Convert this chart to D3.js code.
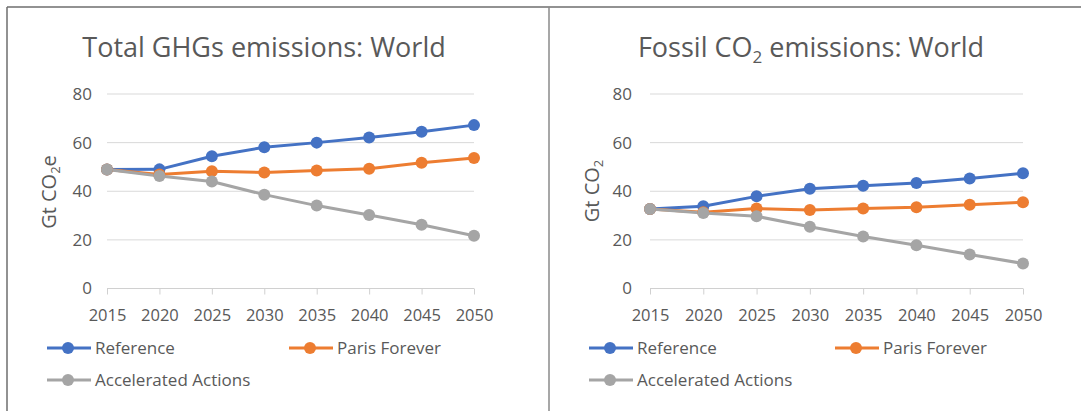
<!DOCTYPE html>
<html><head><meta charset="utf-8">
<script src="https://cdn.jsdelivr.net/npm/d3@7"></script>
<style>html,body{margin:0;padding:0;background:#fff;}svg{display:block;font-family:"Open Sans",sans-serif;}</style>
</head><body>
<svg id="c" width="1081" height="411"></svg>
<script>
const years = [2015, 2020, 2025, 2030, 2035, 2040, 2045, 2050];
const yTicks = [0, 20, 40, 60, 80];
const seriesNames = ["Reference", "Paris Forever", "Accelerated Actions"];
const seriesColors = ["#4472C4", "#ED7D31", "#A5A5A5"];

const ghgReference = [48.9, 49.0, 54.4, 58.1, 60.0, 62.1, 64.5, 67.2];
const ghgParis     = [48.9, 46.9, 48.2, 47.7, 48.5, 49.3, 51.7, 53.7];
const ghgAccel     = [48.9, 46.3, 44.0, 38.6, 34.1, 30.2, 26.2, 21.7];

const co2Reference = [32.7, 33.8, 37.9, 41.0, 42.3, 43.4, 45.2, 47.4];
const co2Paris     = [32.7, 31.4, 32.9, 32.3, 32.9, 33.4, 34.4, 35.5];
const co2Accel     = [32.7, 31.1, 29.7, 25.4, 21.4, 17.8, 14.0, 10.3];

const svg = d3.select("#c");
const textColor = "#595959";

// frame
svg.append("line").attr("x1",7).attr("x2",1081).attr("y1",7).attr("y2",7).attr("stroke","#6e6e6e").attr("stroke-width",1.5);
svg.append("line").attr("x1",7).attr("x2",7).attr("y1",7).attr("y2",411).attr("stroke","#6e6e6e").attr("stroke-width",1.5);
svg.append("line").attr("x1",549).attr("x2",549).attr("y1",7).attr("y2",411).attr("stroke","#8a8a8a").attr("stroke-width",1.5);

function panel(cfg){
  const g = svg.append("g");
  const x = d3.scalePoint().domain(years).range([cfg.x0, cfg.x1]);
  const y = d3.scaleLinear().domain([0,80]).range([288.5, 94]);

  // gridlines
  g.selectAll(".grid").data(yTicks.filter(d=>d>0)).join("line")
    .attr("x1",cfg.x0).attr("x2",cfg.x1).attr("y1",d=>y(d)).attr("y2",d=>y(d))
    .attr("stroke","#D9D9D9").attr("stroke-width",1);

  // x axis
  const xa = g.append("g").attr("transform",`translate(0,${y(0)})`)
    .call(d3.axisBottom(x).tickSize(6).tickPadding(15).tickFormat(d3.format("d")));
  xa.select(".domain").attr("stroke","#D0D0D0").attr("d",`M${cfg.x0},0H${cfg.x1}`);
  xa.selectAll(".tick line").attr("stroke","#D0D0D0");
  xa.selectAll(".tick text").attr("fill",textColor).style("font-size","16.5px").style("font-family","Open Sans");

  // y axis labels
  const ya = g.append("g").attr("transform",`translate(${cfg.x0},0)`)
    .call(d3.axisLeft(y).tickValues(yTicks).tickSize(0).tickPadding(cfg.ypad));
  ya.select(".domain").remove();
  ya.selectAll(".tick text").attr("fill",textColor).style("font-size","17px").style("font-family","Open Sans");

  // y title
  const yt = g.append("text").attr("transform",`translate(${cfg.ytx},${cfg.yty}) rotate(-90)`)
    .attr("text-anchor","middle").attr("fill",textColor).style("font-size","20px");
  yt.append("tspan").text("Gt CO");
  yt.append("tspan").text("2").style("font-size","13px").attr("dy",4);
  if (cfg.ysuffix) yt.append("tspan").text(cfg.ysuffix).attr("dy",-4);

  // title
  const t = g.append("text").attr("x",cfg.tx).attr("y",57).attr("text-anchor","middle")
    .attr("fill",textColor).style("font-size","27px");
  cfg.title.forEach(p=>{
    const s = t.append("tspan").text(p.t);
    if (p.sub) s.style("font-size","17px").attr("dy",6);
    if (p.after) s.attr("dy",-6);
  });

  // lines
  const line = d3.line().x((d,i)=>x(years[i])).y(d=>y(d));
  cfg.data.forEach((arr,k)=>{
    g.append("path").datum(arr).attr("d",line).attr("fill","none")
      .attr("stroke",seriesColors[k]).attr("stroke-width",3).attr("stroke-linejoin","round");
  });
  cfg.data.forEach((arr,k)=>{
    g.selectAll(null).data(arr).join("circle")
      .attr("cx",(d,i)=>x(years[i])).attr("cy",d=>y(d)).attr("r",6)
      .attr("fill",seriesColors[k]);
  });

  // legend
  const leg = [
    {k:0, lx:cfg.l1, ly:348},
    {k:1, lx:cfg.l2, ly:348},
    {k:2, lx:cfg.l1, ly:380}
  ];
  leg.forEach(L=>{
    g.append("line").attr("x1",L.lx).attr("x2",L.lx+44).attr("y1",L.ly).attr("y2",L.ly)
      .attr("stroke",seriesColors[L.k]).attr("stroke-width",3);
    g.append("circle").attr("cx",L.lx+21).attr("cy",L.ly).attr("r",6).attr("fill",seriesColors[L.k]);
    g.append("text").attr("x",L.lx+48).attr("y",L.ly+6).attr("fill",textColor)
      .style("font-size","17px").text(seriesNames[L.k]);
  });
}

panel({x0:107, x1:474, ypad:15, ytx:56, yty:192, ysuffix:"e", tx:264,
  title:[{t:"Total GHGs emissions: World"}],
  data:[ghgReference, ghgParis, ghgAccel], l1:47, l2:289});
panel({x0:650, x1:1023, ypad:18, ytx:599, yty:191, ysuffix:null, tx:811,
  title:[{t:"Fossil CO"},{t:"2",sub:true},{t:" emissions: World",after:true}],
  data:[co2Reference, co2Paris, co2Accel], l1:589, l2:835});
</script>
</body></html>
